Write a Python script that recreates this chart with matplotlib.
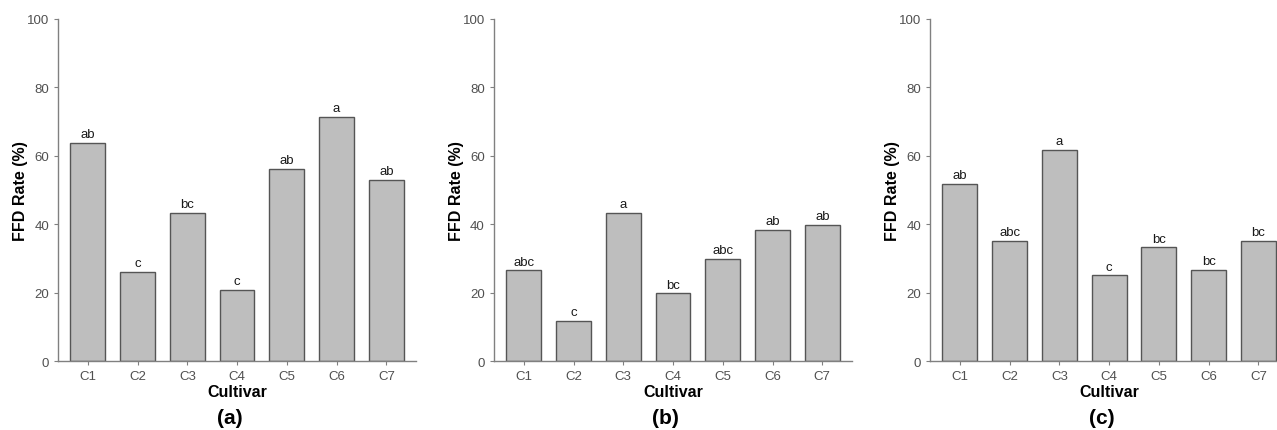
import matplotlib.pyplot as plt

plt.rcParams['font.family'] = ['Liberation Sans', 'DejaVu Sans']

cultivars = ['C1', 'C2', 'C3', 'C4', 'C5', 'C6', 'C7']

rate_a = [63.9, 26.2, 43.4, 20.9, 56.3, 71.4, 53.1]
letters_a = ['ab', 'c', 'bc', 'c', 'ab', 'a', 'ab']

rate_b = [26.6, 11.8, 43.4, 19.9, 29.9, 38.4, 39.8]
letters_b = ['abc', 'c', 'a', 'bc', 'abc', 'ab', 'ab']

rate_c = [51.8, 35.1, 61.8, 25.1, 33.3, 26.7, 35.1]
letters_c = ['ab', 'abc', 'a', 'c', 'bc', 'bc', 'bc']

panels = [('(a)', rate_a, letters_a), ('(b)', rate_b, letters_b), ('(c)', rate_c, letters_c)]
lefts = [0.0454, 0.3868, 0.7283]

fig = plt.figure(figsize=(12.77, 4.31), dpi=100)
axis_grey = '#808080'
label_grey = '#505050'

for (tag, vals, letters), left in zip(panels, lefts):
    ax = fig.add_axes([left, 0.159, 0.2805, 0.795])
    x = range(len(cultivars))
    ax.bar(x, vals, width=0.7, color='#bebebe', edgecolor='#555555', linewidth=1.0)
    for xi, v, t in zip(x, vals, letters):
        ax.text(xi, v + 0.8, t, ha='center', va='bottom', fontsize=9.5, color='#1a1a1a')
    ax.set_xlim(-0.6, 6.6)
    ax.set_ylim(0, 100)
    ax.set_yticks([0, 20, 40, 60, 80, 100])
    ax.set_xticks(list(x))
    ax.set_xticklabels(cultivars)
    for s in ['top', 'right']:
        ax.spines[s].set_visible(False)
    for s in ['left', 'bottom']:
        ax.spines[s].set_color(axis_grey)
        ax.spines[s].set_linewidth(1.0)
    ax.tick_params(axis='both', colors=axis_grey, labelcolor=label_grey,
                   labelsize=9.5, length=3, width=0.8, direction='out')
    ax.set_ylabel('FFD Rate (%)', fontsize=11.5, fontweight='bold', labelpad=-1)
    ax.set_xlabel('Cultivar', fontsize=11.5, fontweight='bold', labelpad=1)
    ax.text(0.48, -0.163, tag, transform=ax.transAxes, ha='center', va='center',
            fontsize=15, fontweight='bold')

fig.savefig('out.png', dpi=100)
